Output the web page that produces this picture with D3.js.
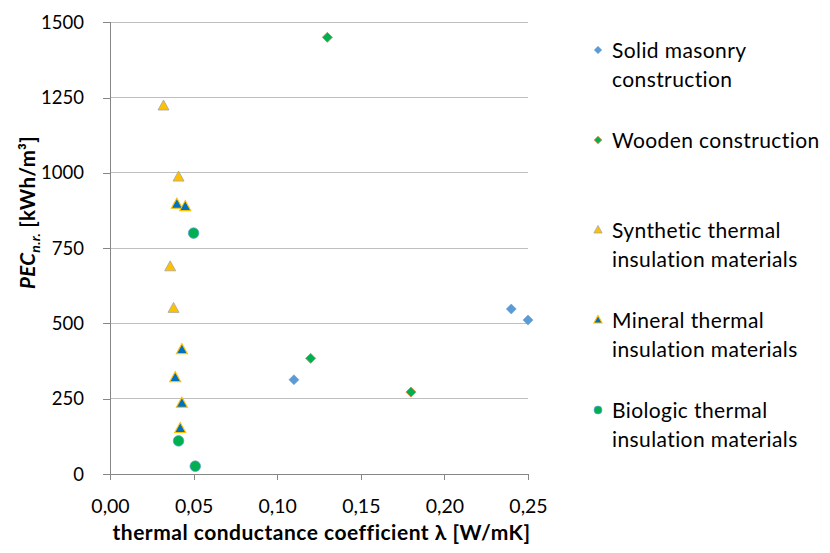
<!DOCTYPE html>
<html>
<head>
<meta charset="utf-8">
<script src="https://cdn.jsdelivr.net/npm/d3@7"></script>
<style>
  html, body { margin: 0; padding: 0; background: #fff; }
  svg { display: block; font-family: Lato, "Open Sans", sans-serif; }
</style>
</head>
<body>
<svg id="chart" width="830" height="553"></svg>
<script>
// PEC n.r. against thermal conductance λ for building materials
const seriesNames = [
  ["Solid masonry", "construction"],
  ["Wooden construction"],
  ["Synthetic thermal", "insulation materials"],
  ["Mineral thermal", "insulation materials"],
  ["Biologic thermal", "insulation materials"]
];

const masonryLambda   = [0.11, 0.24, 0.25];
const masonryPEC      = [313, 548, 511];

const woodenLambda    = [0.13, 0.12, 0.18];
const woodenPEC       = [1450, 384, 272];

const syntheticLambda = [0.032, 0.041, 0.036, 0.038];
const syntheticPEC    = [1222, 986, 688, 550];

const mineralLambda   = [0.040, 0.045, 0.043, 0.039, 0.043, 0.042];
const mineralPEC      = [896, 888, 413, 320, 235, 151];

const biologicLambda  = [0.050, 0.041, 0.051];
const biologicPEC     = [800, 110, 26];

const xTicks = [0, 0.05, 0.10, 0.15, 0.20, 0.25];
const yTicks = [0, 250, 500, 750, 1000, 1250, 1500];

const svg = d3.select("#chart");

const x = d3.scaleLinear().domain([0, 0.25]).range([110, 528]);
const y = d3.scaleLinear().domain([0, 1500]).range([474, 22.3]);

const fmtX = v => d3.format(".2f")(v).replace(".", ",");

// horizontal gridlines
svg.append("g")
  .selectAll("line")
  .data(yTicks.filter(d => d > 0))
  .join("line")
  .attr("x1", x(0)).attr("x2", x(0.25))
  .attr("y1", d => y(d)).attr("y2", d => y(d))
  .attr("stroke", "#bfbfbf").attr("stroke-width", 1)
  .attr("shape-rendering", "crispEdges");

// y axis
const yAxis = svg.append("g")
  .attr("transform", `translate(${x(0)},0)`)
  .call(d3.axisLeft(y).tickValues(yTicks).tickSize(7).tickPadding(20).tickFormat(d3.format("d")));
yAxis.select(".domain").attr("stroke", "#868686").attr("shape-rendering", "crispEdges");
yAxis.selectAll(".tick line").attr("stroke", "#868686").attr("shape-rendering", "crispEdges");
yAxis.selectAll(".tick text")
  .attr("font-family", "Lato, sans-serif").attr("font-size", 18.5).attr("fill", "#000")
  .attr("x", -26).attr("dy", "0.33em");

// x axis
const xAxis = svg.append("g")
  .attr("transform", `translate(0,${y(0)})`)
  .call(d3.axisBottom(x).tickValues(xTicks).tickSize(6).tickSizeOuter(0).tickFormat(fmtX));
xAxis.select(".domain").attr("stroke", "#868686").attr("shape-rendering", "crispEdges");
xAxis.selectAll(".tick line").attr("stroke", "#868686").attr("shape-rendering", "crispEdges");
xAxis.selectAll(".tick text")
  .attr("font-family", "Lato, sans-serif").attr("font-size", 19.5).attr("fill", "#000")
  .attr("y", 39).attr("dy", 0);

// axis titles
svg.append("text")
  .attr("x", 321.5).attr("y", 540)
  .attr("text-anchor", "middle")
  .attr("font-weight", "bold").attr("font-size", 21)
  .attr("letter-spacing", 0.5)
  .text("thermal conductance coefficient λ [W/mK]");

const yTitle = svg.append("text")
  .attr("transform", "translate(35,212.5) rotate(-90)")
  .attr("text-anchor", "middle")
  .attr("font-weight", "bold").attr("font-size", 20.5)
  .attr("letter-spacing", 0.3);
yTitle.append("tspan").attr("font-style", "italic").text("PEC");
yTitle.append("tspan").attr("font-style", "italic").attr("font-size", 14).attr("dy", 5).text("n.r.");
yTitle.append("tspan").attr("dy", -5).text(" [kWh/m³]");

// marker shapes
const diamond = r => `M0,${-r}L${r},0L0,${r}L${-r},0Z`;
const triangle = (w, h) => `M0,${-h * 0.6}L${w / 2},${h * 0.4}L${-w / 2},${h * 0.4}Z`;
const circle = r => `M${r},0A${r},${r} 0 1,1 ${-r},0A${r},${r} 0 1,1 ${r},0Z`;

const styles = [
  { path: s => diamond(5 * s),        fill: "#5b9bd5", stroke: "#5b9bd5", sw: 0.5 },
  { path: s => diamond(5 * s),        fill: "#00b050", stroke: "#ed7d31", sw: 0.9 },
  { path: s => triangle(11 * s, 10 * s), fill: "#ffc000", stroke: "#a5a5a5", sw: 0.8 },
  { path: s => triangle(11 * s, 10 * s), fill: "#0070c0", stroke: "#ffc000", sw: 1.1 },
  { path: s => circle(5.3 * s),       fill: "#00b050", stroke: "#5b9bd5", sw: 0.7 }
];

const series = [
  [masonryLambda, masonryPEC],
  [woodenLambda, woodenPEC],
  [syntheticLambda, syntheticPEC],
  [mineralLambda, mineralPEC],
  [biologicLambda, biologicPEC]
];

series.forEach(([lx, py], i) => {
  const st = styles[i];
  svg.append("g")
    .selectAll("path")
    .data(lx.map((v, k) => [v, py[k]]))
    .join("path")
    .attr("transform", d => `translate(${x(d[0])},${y(d[1])})`)
    .attr("d", st.path(1))
    .attr("fill", st.fill)
    .attr("stroke", st.stroke)
    .attr("stroke-width", st.sw);
});

// legend: entries on an even 90px pitch, marker centred on the first line
const legendTop = 50, legendPitch = 90;
const legend = svg.append("g");
seriesNames.forEach((lines, i) => {
  const st = styles[i];
  const cy = legendTop + i * legendPitch;
  legend.append("path")
    .attr("transform", `translate(598,${cy})`)
    .attr("d", st.path(0.75))
    .attr("fill", st.fill)
    .attr("stroke", st.stroke)
    .attr("stroke-width", st.sw);
  const t = legend.append("text")
    .attr("x", 612).attr("y", cy + 7.5)
    .attr("font-size", 21).attr("letter-spacing", 0.4).attr("fill", "#000");
  lines.forEach((ln, k) => {
    t.append("tspan").attr("x", 612).attr("dy", k === 0 ? 0 : 29).text(ln);
  });
});
</script>
</body>
</html>
